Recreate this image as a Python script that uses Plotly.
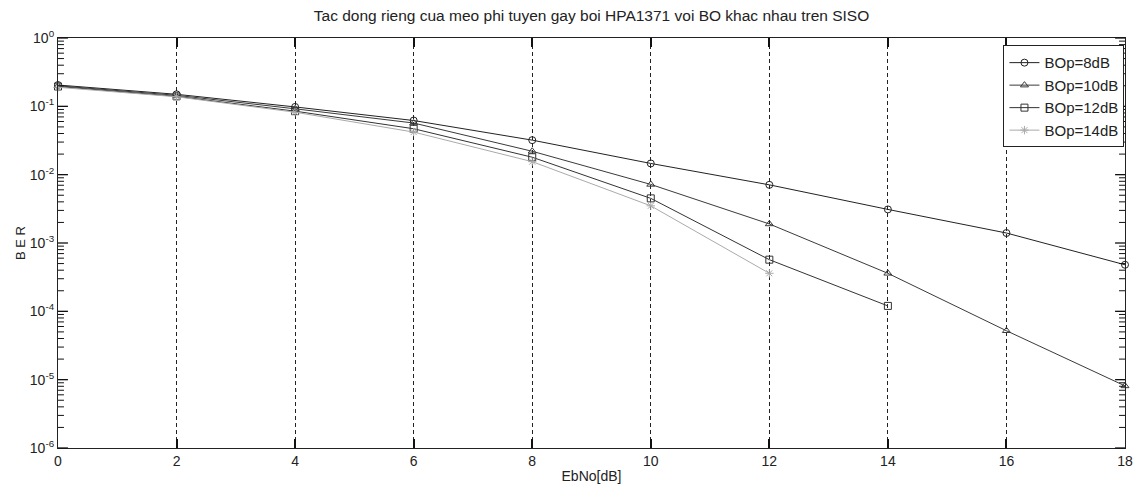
import math
import plotly.graph_objects as go

ebno = [0, 2, 4, 6, 8, 10, 12, 14, 16, 18]
ber_8 = [0.205, 0.15, 0.098, 0.062, 0.032, 0.0146, 0.0071, 0.0031, 0.0014, 0.00048]
ebno_10 = [0, 2, 4, 6, 8, 10, 12, 14, 16, 18]
ber_10 = [0.20, 0.145, 0.092, 0.057, 0.022, 0.0072, 0.0019, 0.00036, 5.2e-5, 8.1e-6]
ebno_12 = [0, 2, 4, 6, 8, 10, 12, 14]
ber_12 = [0.195, 0.14, 0.085, 0.047, 0.018, 0.0045, 0.00057, 0.00012]
ebno_14 = [0, 2, 4, 6, 8, 10, 12]
ber_14 = [0.19, 0.138, 0.082, 0.042, 0.0155, 0.0035, 0.00036]

names = ["BOp=8dB", "BOp=10dB", "BOp=12dB", "BOp=14dB"]
colors = ["#222222", "#3a3a3a", "#333333", "#aaaaaa"]
symbols = ["circle-open", "triangle-up-open", "square-open", "asterisk-open"]
xs = [ebno, ebno_10, ebno_12, ebno_14]
ys = [ber_8, ber_10, ber_12, ber_14]

ytick_vals = [1, 0.1, 0.01, 0.001, 1e-4, 1e-5, 1e-6]
ytick_text = ["10<sup>0</sup>", "10<sup>-1</sup>", "10<sup>-2</sup>", "10<sup>-3</sup>",
              "10<sup>-4</sup>", "10<sup>-5</sup>", "10<sup>-6</sup>"]
yminor_vals = [m * 10 ** e for e in range(-6, 0) for m in range(2, 10)]
xtick_vals = [0, 2, 4, 6, 8, 10, 12, 14, 16, 18]
YLOG_RANGE = [-6, 0]

FONT = "Liberation Sans Narrow, Liberation Sans, Arial, sans-serif"

fig = go.Figure()
for x, y, n, c, s in zip(xs, ys, names, colors, symbols):
    fig.add_trace(go.Scatter(
        x=x, y=y, name=n, mode="lines+markers", cliponaxis=False,
        line=dict(color=c, width=1),
        marker=dict(symbol=s, size=7, color=c, line=dict(color=c, width=1)),
    ))

# Inward y-axis tick marks (major and minor) on both left and right frame edges
def _frac(v):
    return (math.log10(v) - YLOG_RANGE[0]) / (YLOG_RANGE[1] - YLOG_RANGE[0])

MAJ = 10 / 1073
MIN = 6 / 1073
for vals, ln, w in [(ytick_vals, MAJ, 1.3), (yminor_vals, MIN, 1.0)]:
    for v in vals:
        f = _frac(v)
        for x0, x1 in [(0, ln), (1 - ln, 1)]:
            fig.add_shape(type="line", xref="x domain", yref="y domain",
                          x0=x0, x1=x1, y0=f, y1=f,
                          line=dict(color="#111111", width=w), layer="above")

fig.update_layout(
    width=1145, height=494,
    margin=dict(l=58, r=14, t=38, b=46),
    paper_bgcolor="white", plot_bgcolor="white",
    font=dict(family=FONT, size=13, color="#222"),
    title=dict(text="Tac dong rieng cua meo phi tuyen gay boi HPA1371 voi BO khac nhau tren SISO",
               x=0.5, xref="paper", y=1, yref="container", yanchor="top", pad=dict(t=10),
               font=dict(family=FONT, size=15.5, color="#222")),
    showlegend=True,
    legend=dict(x=0.9995, y=0.982, xanchor="right", yanchor="top",
                bgcolor="white", bordercolor="#222", borderwidth=1,
                font=dict(family=FONT, size=15, color="#222"),
                tracegroupgap=0, itemwidth=30),
)
fig.update_xaxes(
    range=[0, 18], tickvals=xtick_vals, ticks="inside", ticklen=9, tickwidth=1.5, tickcolor="#111111",
    showline=True, linecolor="#222", linewidth=1.2, mirror="allticks",
    showgrid=True, gridcolor="#222", griddash="4px,3px", gridwidth=1,
    zeroline=False,
    title=dict(text="EbNo[dB]", standoff=3, font=dict(family=FONT, size=14)),
    tickfont=dict(family=FONT, size=14),
)
fig.update_yaxes(
    type="log", range=YLOG_RANGE, tickvals=ytick_vals, ticktext=ytick_text,
    ticks="", showline=True, linecolor="#222", linewidth=1.2, mirror=True,
    showgrid=False, zeroline=False,
    title=dict(text="B E R", standoff=1, font=dict(family=FONT, size=13)),
    tickfont=dict(family=FONT, size=14),
)

fig.write_html("out.html")
